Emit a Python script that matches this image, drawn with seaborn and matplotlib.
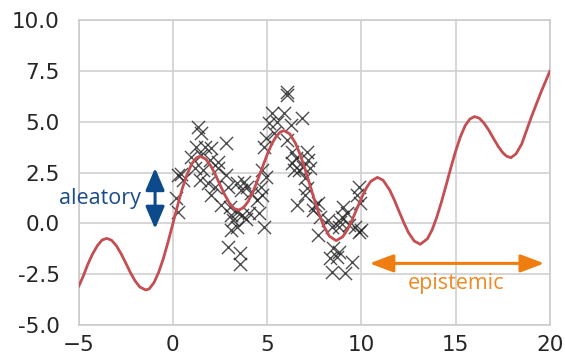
import numpy as np
import pandas as pd
import matplotlib
matplotlib.use("Agg")
import matplotlib.pyplot as plt
import seaborn as sns

# Underlying function (red curve), sampled along x
curve_x = [-5, -4.75, -4.5, -4.25, -4, -3.75, -3.5, -3.25, -3, -2.75, -2.5,
           -2.25, -2, -1.75, -1.43, -1.25, -1, -0.75, -0.5, -0.25, 0, 0.25,
           0.5, 0.75, 1, 1.25, 1.45, 1.75, 2, 2.25, 2.5, 2.75, 3, 3.25, 3.48,
           3.75, 4, 4.25, 4.5, 4.75, 5, 5.25, 5.5, 5.7, 5.9, 6.2, 6.5, 6.75,
           7, 7.25, 7.5, 7.75, 8, 8.3, 8.66, 9, 9.25, 9.5, 9.75, 10, 10.25,
           10.5, 10.85, 11.15, 11.5, 11.75, 12, 12.25, 12.5, 12.8, 13.12, 13.5,
           13.75, 14, 14.25, 14.5, 14.75, 15, 15.25, 15.5, 15.75, 16, 16.25,
           16.5, 16.75, 17, 17.25, 17.5, 17.7, 17.93, 18.2, 18.5, 18.75, 19,
           19.25, 19.5, 19.75, 20]
curve_y = [-3.12, -2.6, -2.0, -1.5, -1.1, -0.82, -0.74, -0.83, -1.09, -1.48,
           -1.94, -2.42, -2.83, -3.13, -3.28, -3.22, -2.92, -2.41, -1.73,
           -0.91, -0.03, 0.86, 1.70, 2.39, 2.92, 3.22, 3.30, 3.16, 2.85, 2.41,
           1.90, 1.41, 1.00, 0.73, 0.65, 0.77, 1.08, 1.55, 2.13, 2.76, 3.37,
           3.91, 4.30, 4.49, 4.56, 4.40, 3.95, 3.39, 2.70, 1.95, 1.18, 0.47,
           -0.12, -0.63, -0.85, -0.67, -0.33, 0.15, 0.69, 1.24, 1.72, 2.07,
           2.26, 2.12, 1.64, 1.14, 0.58, 0.03, -0.46, -0.87, -1.03, -0.76,
           -0.32, 0.31, 1.07, 1.90, 2.76, 3.56, 4.26, 4.80, 5.13, 5.25, 5.17,
           4.93, 4.59, 4.18, 3.79, 3.47, 3.30, 3.23, 3.42, 3.9, 4.55, 5.2, 5.8,
           6.4, 6.95, 7.5]

# Noisy observations
obs_x = [0.28, 0.54, 0.19, 0.28, 0.45,
         1.34, 1.52, 1.25, 1.69, 2.05, 2.84,
         0.99, 1.52, 1.96, 2.40, 1.16, 1.60, 2.40, 2.84, 1.43, 1.87, 2.22, 2.93,
         2.05, 2.58, 3.02, 3.11, 3.20, 3.11, 2.95, 3.55, 3.55,
         6.08, 6.08, 5.28, 5.90, 5.55, 5.11, 6.26, 4.93, 5.37, 4.84, 6.08, 6.34,
         6.52, 6.34, 6.70, 6.43, 4.75, 4.93, 4.66, 4.75, 4.49, 4.58, 4.84, 3.43,
         3.78, 3.96, 3.60, 4.13, 3.43, 3.69, 4.05, 3.43, 6.61, 3.90,
         6.84, 7.10, 7.19, 6.93, 7.28, 7.02, 7.10, 7.02, 7.55, 7.46, 7.72, 7.81,
         8.25, 8.43, 7.72, 9.05, 9.23, 8.96, 8.87, 8.79, 9.32, 9.85, 9.76, 9.93,
         9.67, 9.85, 10.0, 8.52, 8.79, 8.70, 8.34, 9.49, 8.43, 9.14]
obs_y = [2.38, 2.13, 1.23, 0.57, 2.45,
         4.75, 4.43, 3.77, 3.77, 3.69, 3.93,
         3.28, 3.36, 3.12, 3.03, 2.71, 2.62, 2.71, 2.38, 2.13, 1.97, 1.80, 1.80,
         1.39, 0.90, 0.82, 0.41, 0.16, -0.33, -1.15, -1.45, -2.0,
         6.48, 6.31, 5.41, 5.41, 5.0, 4.92, 4.84, 4.18, 4.43, 3.77, 4.10, 3.52,
         3.20, 2.95, 2.62, 2.62, 2.62, 2.30, 1.80, 1.39, 1.15, 0.49, -0.16, 1.97,
         2.05, 1.80, 1.64, 1.47, 0.57, 0.41, 0.49, -0.16, 0.90, 0.2,
         5.16, 3.52, 3.12, 2.79, 2.70, 2.21, 1.72, 1.39, 0.90, 0.66, 0.98, 0.33,
         0.16, -0.16, -0.57, 0.82, 0.49, 0.33, 0.08, -0.16, -0.08, 1.80, 1.39,
         0.98, -0.16, -0.41, -0.35, -1.23, -1.39, -1.64, -1.72, -1.88, -2.38,
         -2.46]

x_ticks = [-5, 0, 5, 10, 15, 20]
y_ticks = [-5.0, -2.5, 0.0, 2.5, 5.0, 7.5, 10.0]

curve = pd.DataFrame({"x": curve_x, "y": curve_y})
obs = pd.DataFrame({"x": obs_x, "y": obs_y})

sns.set_theme(style="whitegrid")
plt.rcParams["font.family"] = ["DejaVu Sans"]

fig = plt.figure(figsize=(5.65, 3.63), dpi=100)
ax = fig.add_axes([78.5 / 565, 1 - 325 / 363, (550 - 78.5) / 565, 305 / 363])

sns.scatterplot(data=obs, x="x", y="y", marker="x", color="#222222", s=90,
                linewidth=1.0, alpha=0.8, ax=ax, zorder=2)
sns.lineplot(data=curve, x="x", y="y", color="#c44e52", linewidth=2.0,
             ax=ax, zorder=3)

ax.set_xlim(-5, 20)
ax.set_ylim(-5, 10)
ax.set_xticks(x_ticks)
ax.set_yticks(y_ticks)
ax.set_yticklabels([f"{v:.1f}" for v in y_ticks])
ax.set_xlabel("")
ax.set_ylabel("")
ax.tick_params(axis="both", labelsize=15.5, colors="#262626", length=0)
ax.tick_params(axis="y", pad=13.5)
ax.tick_params(axis="x", pad=7)
for sp in ax.spines.values():
    sp.set_color("#cccccc")
    sp.set_linewidth(1.2)
ax.grid(color="#d0d0d0", linewidth=1.2)

# aleatory: spread of the observations
ax.annotate("", xy=(-0.94, 2.72), xytext=(-0.94, -0.27),
            arrowprops=dict(arrowstyle="<|-|>,head_length=0.75,head_width=0.32",
                            color="#0d4a8c", lw=2.2, mutation_scale=18,
                            shrinkA=0, shrinkB=0))
ax.text(-3.86, 1.23, "aleatory", color="#1a4c8c", fontsize=15.5,
        family=["Open Sans", "DejaVu Sans"], ha="center", va="center")

# epistemic: region without observations
ax.annotate("", xy=(19.7, -1.97), xytext=(10.43, -1.97),
            arrowprops=dict(arrowstyle="<|-|>,head_length=0.8,head_width=0.3",
                            color="#f07d10", lw=2.2, mutation_scale=18,
                            shrinkA=0, shrinkB=0))
ax.text(15.02, -2.95, "epistemic", color="#ee8a25", fontsize=15.5,
        family=["Open Sans", "DejaVu Sans"], ha="center", va="center")

fig.savefig("out.png", dpi=100)
